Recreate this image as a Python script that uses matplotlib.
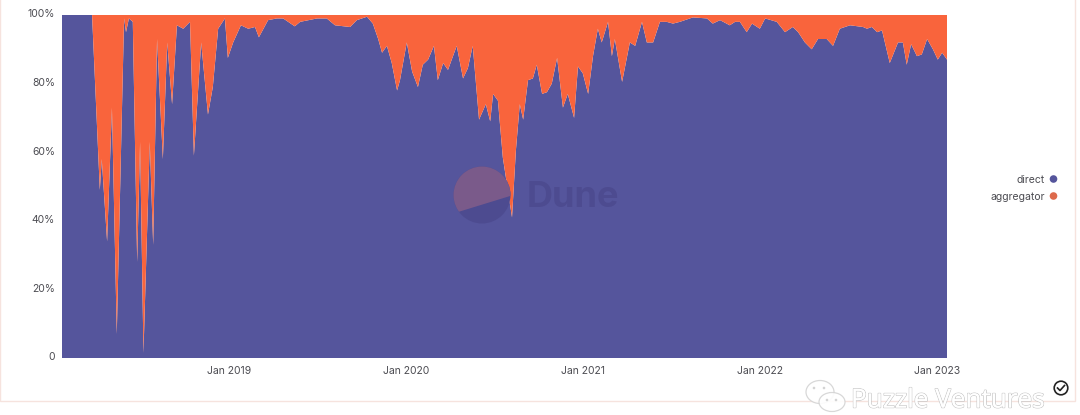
import numpy as np
import matplotlib
matplotlib.use('Agg')
import matplotlib.pyplot as plt
import matplotlib.dates as mdates
import matplotlib.patheffects as pe
from matplotlib.patches import Circle, Ellipse, Polygon, Rectangle
from matplotlib.transforms import ScaledTranslation
from datetime import date, timedelta

START = date(2018, 1, 22)
days = [0, 62, 78, 82, 93, 103, 113, 128, 132, 138, 146, 155, 161, 168, 181, 188, 196, 208, 217, 227,
        237, 250, 264, 272, 287, 301, 311, 322, 336, 342, 353, 369, 384, 398, 406, 425, 443, 456, 480, 491,
        526, 546, 563, 594, 608, 629, 641, 652, 660, 670, 680, 691, 697, 711, 722, 734, 744, 755, 767, 775,
        786, 796, 814, 827, 837, 847, 860, 874, 883, 889, 899, 909, 928, 936, 944, 951, 961, 971, 979, 990,
        1000, 1010, 1021, 1033, 1043, 1056, 1064, 1074, 1085, 1095, 1105, 1113, 1126, 1134, 1140, 1155, 1171, 1182, 1196, 1206,
        1212, 1219, 1233, 1247, 1260, 1274, 1301, 1330, 1342, 1357, 1377, 1388, 1398, 1412, 1423, 1439, 1450, 1474, 1491, 1507,
        1518, 1532, 1546, 1559, 1577, 1590, 1604, 1625, 1652, 1660, 1670, 1681, 1691, 1707, 1724, 1734, 1742, 1751, 1763, 1773,
        1784, 1796, 1806, 1815, 1825]
direct = [100, 100, 49, 58, 34, 73, 7, 99, 95, 99, 98, 28, 63, 1.5, 63, 33, 93, 58, 92, 74,
          97, 96, 98, 59, 92, 71, 79, 96, 99, 87.5, 92, 97, 96, 96.5, 93.5, 98.5, 99, 99, 96.7, 98,
          99, 99, 97, 96.5, 98.5, 99.5, 97.5, 93, 89, 91, 86, 78, 81, 92, 83.5, 79, 85.5, 87, 91, 81,
          86, 84, 91, 81.5, 84.5, 91, 69.5, 74, 69, 77, 75, 58.5, 41, 60.5, 74, 69.5, 81, 81.5, 85.5, 77,
          77.5, 80, 87.5, 73, 77, 70, 85, 83, 77, 88, 96, 92, 98, 88, 93, 80.5, 92, 91, 98, 92,
          92, 92, 98, 98, 97.5, 98, 99.3, 99, 97.5, 98.5, 97, 98, 98, 95, 97.5, 96, 99, 98, 95, 96.5,
          95, 92, 90, 93, 93, 91, 96, 97, 96.5, 96, 96.5, 95, 95.5, 86, 92, 92, 85.5, 91.5, 88, 88.5,
          93, 90, 87, 89, 87]
aggregator = [0, 0, 51, 42, 66, 27, 93, 1, 5, 1, 2, 72, 37, 98.5, 37, 67, 7, 42, 8, 26,
              3, 4, 2, 41, 8, 29, 21, 4, 1, 12.5, 8, 3, 4, 3.5, 6.5, 1.5, 1, 1, 3.3, 2,
              1, 1, 3, 3.5, 1.5, 0.5, 2.5, 7, 11, 9, 14, 22, 19, 8, 16.5, 21, 14.5, 13, 9, 19,
              14, 16, 9, 18.5, 15.5, 9, 30.5, 26, 31, 23, 25, 41.5, 59, 39.5, 26, 30.5, 19, 18.5, 14.5, 23,
              22.5, 20, 12.5, 27, 23, 30, 15, 17, 23, 12, 4, 8, 2, 12, 7, 19.5, 8, 9, 2, 8,
              8, 8, 2, 2, 2.5, 2, 0.7, 1, 2.5, 1.5, 3, 2, 2, 5, 2.5, 4, 1, 2, 5, 3.5,
              5, 8, 10, 7, 7, 9, 4, 3, 3.5, 4, 3.5, 5, 4.5, 14, 8, 8, 14.5, 8.5, 12, 11.5,
              7, 10, 13, 11, 13]
series_names = ['direct', 'aggregator']
y_ticks = [0, 20, 40, 60, 80, 100]
y_labels = ['0', '20%', '40%', '60%', '80%', '100%']
x_ticks = [date(2019, 1, 1), date(2020, 1, 1), date(2021, 1, 1), date(2022, 1, 1), date(2023, 1, 1)]

BLUE = '#55559c'
ORANGE = '#f9643c'
TEXT = '#4c4c52'
plt.rcParams['font.family'] = ['Inter', 'DejaVu Sans']

dates = [START + timedelta(days=d) for d in days]
W, H = 1080, 415
fig = plt.figure(figsize=(W / 100, H / 100), dpi=100, facecolor='white')

# pixel coordinates for everything that is not data
over = fig.add_axes([0, 0, 1, 1], zorder=3)
over.set_xlim(0, W)
over.set_ylim(H, 0)
over.axis('off')
over.patch.set_alpha(0)

ax = fig.add_axes([62 / W, (H - 358) / H, 885 / W, 343 / H], zorder=2)
ax.stackplot(dates, direct, aggregator, colors=[BLUE, ORANGE], linewidth=0)
ax.set_xlim(dates[0], dates[-1])
ax.set_ylim(0, 100)
ax.set_yticks(y_ticks)
ax.set_yticklabels(y_labels, fontsize=7.5, color=TEXT)
ax.set_xticks(x_ticks)
ax.xaxis.set_major_formatter(mdates.DateFormatter('%b %Y'))
ax.tick_params(length=0, pad=6)
ax.tick_params(axis='x', labelsize=7.5, labelcolor=TEXT)
ax.tick_params(axis='y', pad=5)
for lab in ax.get_yticklabels():
    lab.set_verticalalignment('center')
    lab.set_transform(lab.get_transform() + ScaledTranslation(0, 0.5 / 72, fig.dpi_scale_trans))
for s in ax.spines.values():
    s.set_visible(False)
ax.set_facecolor('none')

# card border
over.add_patch(Rectangle((0, -5), 1075, 405.5, fill=False, edgecolor='#f6e3de', linewidth=1))

# Dune watermark
disc = Circle((482, 195), 28.5, facecolor='#4d4b90', edgecolor='none')
over.add_patch(disc)
top = Polygon([(450, 214.5), (515, 194.5), (515, 160), (450, 160)], closed=True, facecolor='#7a5a8a', edgecolor='none')
over.add_patch(top)
top.set_clip_path(disc)
over.text(527, 197, 'Dune', fontsize=26, fontweight='bold', color='#4d4b90', va='center', ha='left')

# legend
for name, colour, y in zip(series_names, [BLUE, '#dd6a4c'], [179, 196]):
    over.text(1045, y + 0.5, name, fontsize=7.5, color=TEXT, ha='right', va='center')
    over.add_patch(Circle((1053.5, y), 3.8, facecolor=colour, edgecolor='none'))

# check icon
over.add_patch(Circle((1061, 388), 6.8, facecolor='white', edgecolor='#222222', linewidth=1.2))
over.plot([1057.5, 1060, 1064.5], [388, 390.5, 385.5], color='#222222', linewidth=1.2)

# wechat style mark and name
halo = '#d4d4d4'
over.add_patch(Ellipse((820, 392), 28, 23, facecolor='white', edgecolor=halo, linewidth=0.9, alpha=0.9))
over.add_patch(Ellipse((832, 402), 26, 19, facecolor='white', edgecolor=halo, linewidth=0.9, alpha=0.9))
for cx, cy in [(814, 388), (824, 388), (827, 400), (836, 400)]:
    over.add_patch(Circle((cx, cy), 1.3, facecolor=halo, edgecolor='none'))
txt = over.text(851, 401, 'Puzzle Ventures', fontsize=18.8, color='white', ha='left', va='center', family=['Open Sans', 'DejaVu Sans'])
txt.set_path_effects([pe.withStroke(linewidth=1.0, foreground='#c4c4c4'), pe.Normal()])

plt.savefig('out.png', dpi=100)
plt.close()
